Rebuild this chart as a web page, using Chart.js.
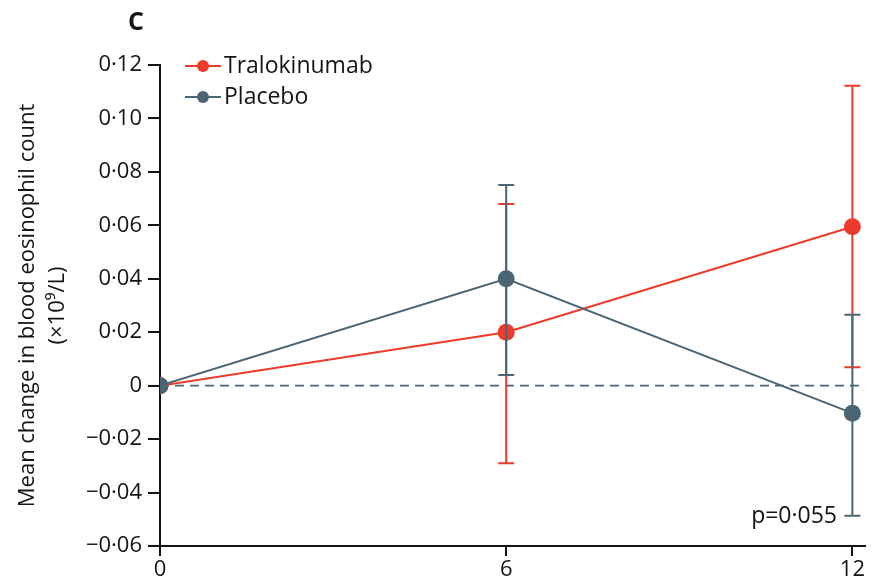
<!DOCTYPE html>
<html>
<head>
<meta charset="utf-8">
<script src="https://cdn.jsdelivr.net/npm/chart.js@4.4.1/dist/chart.umd.min.js"></script>
<style>
  html, body { margin: 0; padding: 0; background: #ffffff; }
  #wrap { width: 873px; height: 585px; position: relative; }
</style>
</head>
<body>
<div id="wrap"><canvas id="c" width="873" height="585"></canvas></div>
<script>
// Weeks of treatment
const weeks = [0, 6, 12];
const xTickLabels = ['0', '6', '12'];

// Mean change in blood eosinophil count (×10⁹/L)
const traloMean = [0, 0.020, 0.0595];
const traloLow  = [null, -0.029, 0.0069];
const traloHigh = [null, 0.068, 0.1122];

const placeboMean = [0, 0.040, -0.0103];
const placeboLow  = [null, 0.0040, -0.0487];
const placeboHigh = [null, 0.0751, 0.0265];

const yTickValues = [-0.06, -0.04, -0.02, 0, 0.02, 0.04, 0.06, 0.08, 0.10, 0.12];
const yTickLabels = ['−0·06', '−0·04', '−0·02', '0', '0·02', '0·04', '0·06', '0·08', '0·10', '0·12'];

const seriesNames = ['Tralokinumab', 'Placebo'];
const pValueText = 'p=0·055';
const panelLetter = 'C';
const yTitleLines = ['Mean change in blood eosinophil count', '(×10⁹/L)'];

const RED = '#ee3a2b';
const GREY = '#4b6574';
const INK = '#141414';
const FONT = '"Open Sans", Lato, sans-serif';

const errors = [
  { low: traloLow, high: traloHigh },
  { low: placeboLow, high: placeboHigh }
];

// Vertical whiskers with end caps, drawn right after each series
const errorBars = {
  id: 'errorBars',
  afterDatasetDraw(chart, args) {
    const ds = chart.data.datasets[args.index];
    const err = errors[args.index];
    const { ctx, scales: { x, y } } = chart;
    ctx.save();
    ctx.strokeStyle = ds.borderColor;
    ctx.lineWidth = 2;
    weeks.forEach((w, i) => {
      if (err.low[i] == null) return;
      const px = x.getPixelForValue(w);
      const yl = y.getPixelForValue(err.low[i]);
      const yh = y.getPixelForValue(err.high[i]);
      ctx.beginPath();
      ctx.moveTo(px, yl); ctx.lineTo(px, yh);
      ctx.moveTo(px - 8, yl); ctx.lineTo(px + 8, yl);
      ctx.moveTo(px - 8, yh); ctx.lineTo(px + 8, yh);
      ctx.stroke();
    });
    ctx.restore();
  }
};

// Dashed reference line at zero change
const zeroLine = {
  id: 'zeroLine',
  beforeDatasetsDraw(chart) {
    const { ctx, chartArea, scales: { y } } = chart;
    const py = y.getPixelForValue(0);
    ctx.save();
    ctx.strokeStyle = GREY;
    ctx.lineWidth = 1.6;
    ctx.setLineDash([9, 6]);
    ctx.beginPath();
    ctx.moveTo(chartArea.left, py);
    ctx.lineTo(chartArea.right, py);
    ctx.stroke();
    ctx.restore();
  }
};

// Panel letter, legend, p value and the y-axis title
const decorations = {
  id: 'decorations',
  afterDraw(chart) {
    const { ctx, chartArea } = chart;
    ctx.save();
    ctx.fillStyle = INK;
    ctx.font = 'bold 25px ' + FONT;
    ctx.textAlign = 'center';
    ctx.textBaseline = 'middle';
    ctx.fillText(panelLetter, 136, 23);

    // legend
    const rows = [66, 97];
    chart.data.datasets.forEach((ds, i) => {
      const yy = rows[i];
      ctx.strokeStyle = ds.borderColor;
      ctx.lineWidth = 2;
      ctx.beginPath();
      ctx.moveTo(185, yy); ctx.lineTo(221, yy);
      ctx.stroke();
      ctx.fillStyle = ds.borderColor;
      ctx.beginPath();
      ctx.arc(203, yy, 6, 0, Math.PI * 2);
      ctx.fill();
      ctx.fillStyle = INK;
      ctx.font = '500 23px ' + FONT;
      ctx.textAlign = 'left';
      ctx.textBaseline = 'middle';
      ctx.fillText(seriesNames[i], 224, yy);
    });

    // p value
    ctx.fillStyle = INK;
    ctx.font = '500 23px ' + FONT;
    ctx.textAlign = 'right';
    ctx.textBaseline = 'alphabetic';
    ctx.fillText(pValueText, 837, 523);

    // y-axis title
    const cy = (chartArea.top + chartArea.bottom) / 2;
    ctx.translate(0, cy);
    ctx.rotate(-Math.PI / 2);
    ctx.textAlign = 'center';
    ctx.textBaseline = 'middle';
    ctx.font = '500 22px ' + FONT;
    ctx.fillText(yTitleLines[0], 0, 28);
    ctx.fillText(yTitleLines[1], 0, 58);
    ctx.restore();
  }
};

new Chart(document.getElementById('c'), {
  type: 'line',
  data: {
    datasets: [
      {
        label: seriesNames[0],
        data: weeks.map((w, i) => ({ x: w, y: traloMean[i] })),
        borderColor: RED,
        backgroundColor: RED,
        borderWidth: 2,
        pointRadius: 8.5,
        pointBorderWidth: 0,
        pointHoverRadius: 8.5,
        order: 2
      },
      {
        label: seriesNames[1],
        data: weeks.map((w, i) => ({ x: w, y: placeboMean[i] })),
        borderColor: GREY,
        backgroundColor: GREY,
        borderWidth: 2,
        pointRadius: 8.5,
        pointBorderWidth: 0,
        pointHoverRadius: 8.5,
        order: 1
      }
    ]
  },
  options: {
    responsive: false,
    animation: false,
    events: [],
    layout: { padding: { top: 65, right: 0, bottom: 0, left: 0 } },
    plugins: {
      legend: { display: false },
      tooltip: { enabled: false },
      title: { display: false }
    },
    scales: {
      x: {
        type: 'linear',
        min: 0,
        max: 12.21,
        afterBuildTicks(scale) { scale.ticks = weeks.map(v => ({ value: v })); },
        afterFit(scale) { scale.height = 39; },
        ticks: {
          autoSkip: false,
          maxRotation: 0,
          padding: 1,
          color: INK,
          font: { family: FONT, size: 22, weight: '500' },
          callback(value) { const k = weeks.indexOf(value); return k >= 0 ? xTickLabels[k] : ''; }
        },
        grid: { display: true, drawOnChartArea: false, drawTicks: true, tickLength: 10, color: INK, lineWidth: 2 },
        border: { display: true, color: INK, width: 2 }
      },
      y: {
        type: 'linear',
        min: -0.06,
        max: 0.12,
        afterBuildTicks(scale) { scale.ticks = yTickValues.map(v => ({ value: v })); },
        afterFit(scale) { scale.width = 160; },
        ticks: {
          autoSkip: false,
          padding: 6,
          color: INK,
          font: { family: FONT, size: 22, weight: '500' },
          callback(value) {
            const k = yTickValues.findIndex(v => Math.abs(v - value) < 1e-9);
            return k >= 0 ? yTickLabels[k] : '';
          }
        },
        grid: { display: true, drawOnChartArea: false, drawTicks: true, tickLength: 12, color: INK, lineWidth: 2 },
        border: { display: true, color: INK, width: 2 }
      }
    }
  },
  plugins: [zeroLine, errorBars, decorations]
});
</script>
</body>
</html>
